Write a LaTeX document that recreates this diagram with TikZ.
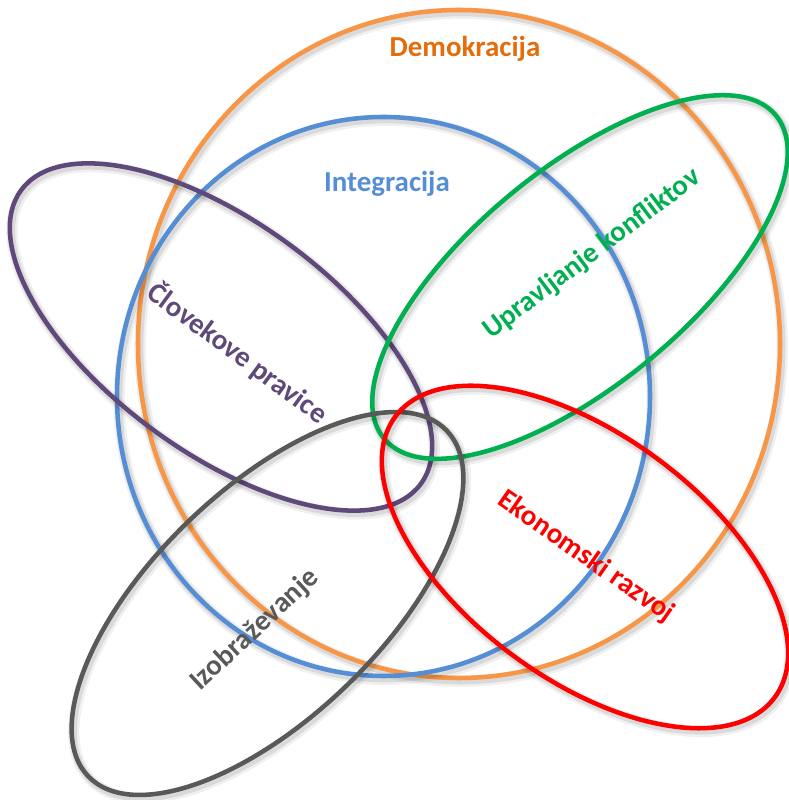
\documentclass[tikz,border=0pt]{standalone}
\usepackage{fontspec}
\setmainfont{Carlito}
\definecolor{demoOrange}{HTML}{F79646}
\definecolor{demoText}{HTML}{E46C0A}
\definecolor{integBlue}{HTML}{558ED5}
\definecolor{rightsPurple}{HTML}{5F497A}
\definecolor{conflictGreen}{HTML}{00B050}
\definecolor{eduGray}{HTML}{595959}
\definecolor{econRed}{HTML}{FF0000}
\begin{document}
\begin{tikzpicture}[x=0.75pt,y=0.75pt,
  vennring/.style={line width=3.4pt,
    preaction={draw=black, draw opacity=0.06, line width=8.5pt,
      transform canvas={shift={(1.6pt,-2.4pt)}}},
    preaction={draw=black, draw opacity=0.09, line width=5.5pt,
      transform canvas={shift={(1.3pt,-2pt)}}}},
  venntext/.style={font=\fontsize{21.7}{26}\selectfont\bfseries, inner sep=0pt}]
\useasboundingbox (0,0) rectangle (789,800);

% centres of the six sets
\coordinate (cDemo) at (459,456);
\coordinate (cInteg) at (383.5,403.5);
\coordinate (cRights) at (221,463);
\coordinate (cConflict) at (580,523);
\coordinate (cEdu) at (267.5,196.5);
\coordinate (cEcon) at (585,243);

% set outlines
\draw[vennring, demoOrange] (cDemo) ellipse [x radius=321, y radius=334];
\draw[vennring, integBlue] (cInteg) ellipse [x radius=266.5, y radius=279.5];
\draw[vennring, rightsPurple, rotate around={-36.3:(cRights)}] (cRights) ellipse [x radius=248, y radius=115];
\draw[vennring, conflictGreen, rotate around={39.5:(cConflict)}] (cConflict) ellipse [x radius=254, y radius=108];
\draw[vennring, eduGray, rotate around={44:(cEdu)}] (cEdu) ellipse [x radius=249, y radius=114];
\draw[vennring, econRed, rotate around={-36.5:(cEcon)}] (cEcon) ellipse [x radius=236, y radius=122];

% set names
\node[venntext, anchor=base, text=demoText] (demoT) at (465,743) {Demokracija};
\node[venntext, anchor=base, text=integBlue] (integT) at (387,608) {Integracija};
\node[venntext, rotate=-36.4, text=rightsPurple] (rightsT) at (238,447) {Človekove pravice};
\node[venntext, rotate=37, text=conflictGreen] (conflictT) at (592,546) {Upravljanje konfliktov};
\node[venntext, rotate=43, text=eduGray] (eduT) at (255,170) {Izobraževanje};
\node[venntext, rotate=-35, text=econRed] (econT) at (586,243) {Ekonomski razvoj};
\end{tikzpicture}
\end{document}
